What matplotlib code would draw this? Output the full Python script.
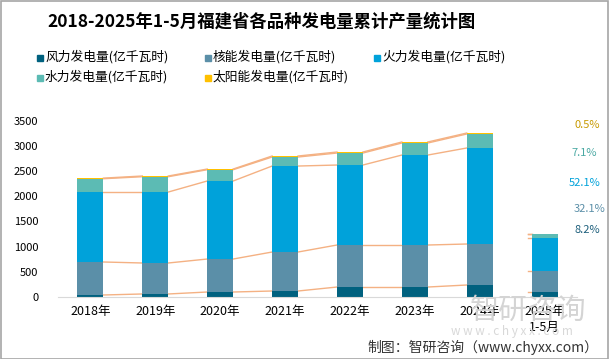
import numpy as np
import matplotlib
matplotlib.use('Agg')
import matplotlib.pyplot as plt
from matplotlib.patches import Rectangle

plt.rcParams['font.family'] = ['Noto Sans CJK SC', 'DejaVu Sans']

# Data (亿千瓦时)
years = ['2018年', '2019年', '2020年', '2021年', '2022年', '2023年', '2024年', '2025年\n1-5月']
wind = [40, 60, 99, 119, 198, 198, 238, 103]
nuclear = [655, 615, 655, 774, 834, 834, 814, 404]
thermal = [1389, 1409, 1549, 1707, 1588, 1786, 1906, 656]
hydro = [264, 304, 224, 179, 238, 239, 278, 89]
solar = [12, 14, 13, 20, 20, 20, 19, 6]
shares = ['8.2%', '32.1%', '52.1%', '7.1%', '0.5%']

names = ['风力发电量(亿千瓦时)', '核能发电量(亿千瓦时)', '火力发电量(亿千瓦时)',
         '水力发电量(亿千瓦时)', '太阳能发电量(亿千瓦时)']
colors = ['#00617f', '#5b8fa8', '#00a2da', '#5cbbb4', '#ffc000']
share_colors = ['#1d5f7c', '#5b8fa8', '#00a2da', '#4aa9a3', '#c89a00']

series = [wind, nuclear, thermal, hydro, solar]

fig = plt.figure(figsize=(6.09, 3.59), dpi=100)
ax = fig.add_axes([58 / 609, 1 - 297 / 359, 519 / 609, (297 - 120.7) / 359])

x = np.arange(len(years))
w = 0.40
bottom = np.zeros(len(years))
tops = []
for vals, c in zip(series, colors):
    ax.bar(x, vals, w, bottom=bottom, color=c, zorder=2)
    bottom = bottom + np.array(vals)
    tops.append(bottom.copy())

# series lines between neighbouring bars (not into the 2025 partial year)
for top in tops:
    for i in range(len(years) - 2):
        ax.plot([x[i] + w / 2, x[i + 1] - w / 2], [top[i], top[i + 1]],
                color='#f4b183', lw=1, zorder=1)
    j = len(years) - 1
    ax.plot([x[j] - w / 2 - 0.06, x[j] - w / 2], [top[j], top[j]],
            color='#f4b183', lw=1, zorder=1)

ax.set_xlim(-0.5, len(years) - 0.5)
ax.set_ylim(0, 3500)
ax.set_yticks(range(0, 3501, 500))
ax.set_xticks(x)
ax.set_xticklabels(years, fontsize=9, linespacing=1.3)
ax.tick_params(axis='y', labelsize=8, length=0, pad=14)
ax.tick_params(axis='x', length=0, pad=6)
for s in ['top', 'right', 'left']:
    ax.spines[s].set_visible(False)
ax.spines['bottom'].set_color('#d9d9d9')

# share labels for 2025
share_y = [230, 209, 183, 153, 125]
share_x = [587, 590, 585, 584, 587]
for t, c, yy, xx in zip(shares, share_colors, share_y, share_x):
    fig.text(xx / 609, 1 - yy / 359, t, color=c, fontsize=8, ha='center', va='center')

# title
fig.text(0.5 * (68 + 455) / 609, 1 - 22 / 359,
         '2018-2025年1-5月福建省各品种发电量累计产量统计图',
         fontsize=12.5, fontweight='bold', ha='center', va='center')

# legend (fixed grid like the source)
leg_pos = [(37, 57), (205, 57), (374, 57), (37, 77), (205, 77)]
for (lx, ly), n, c in zip(leg_pos, names, colors):
    fig.patches.append(Rectangle((lx / 609, 1 - (ly + 3.5) / 359), 6 / 609, 6 / 359,
                                 transform=fig.transFigure, color=c))
    fig.text((lx + 8) / 609, 1 - ly / 359, n, fontsize=9.2, va='center', ha='left')

# watermark
fig.text(528 / 609, 1 - 311 / 359, '智研咨询', fontsize=21, color='#d4d4d4',
         ha='center', va='center', zorder=0)
fig.text(512 / 609, 1 - 331 / 359, 'w w w . c h y x x . c o m', fontsize=8.5,
         color='#d8d8d8', ha='center', va='center', zorder=0)

# source
fig.text(598 / 609, 1 - 347 / 359, '制图：智研咨询（www.chyxx.com）', fontsize=10,
         ha='right', va='center', color='#333333')

# outer border
fig.patches.append(Rectangle((0.001, 0.001), 0.997, 0.996, transform=fig.transFigure,
                             fill=False, edgecolor='#a6a6a6', lw=1.2))

fig.savefig('out.png', dpi=100)
